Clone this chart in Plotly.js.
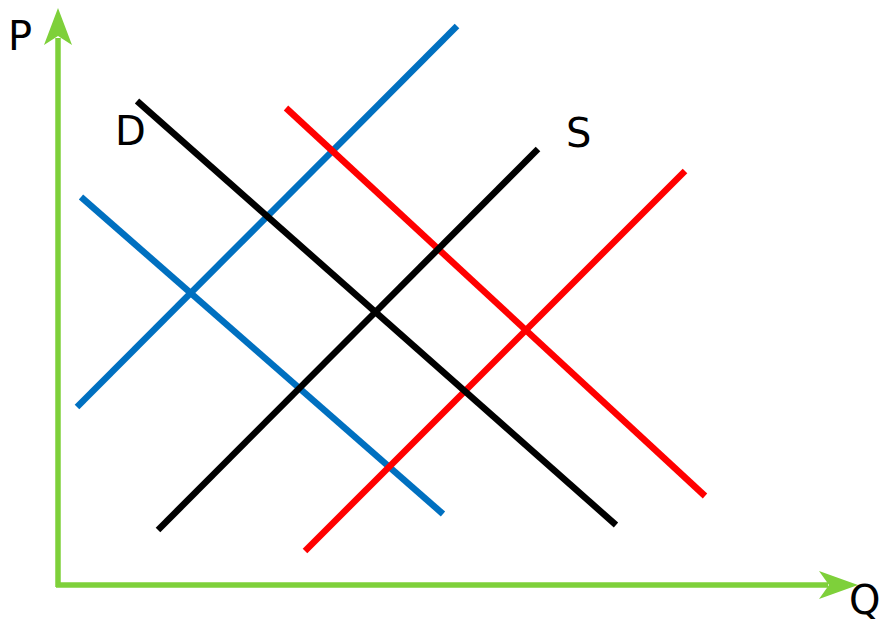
<!DOCTYPE html>
<html>
<head>
<meta charset="utf-8">
<script src="https://cdn.plot.ly/plotly-3.0.1.min.js"></script>
<style>html,body{margin:0;padding:0;background:#fff;}#chart{width:883px;height:629px;}</style>
</head>
<body>
<div id="chart"></div>
<script>
// Curve endpoints (pixel-like units)
const demandX = [137, 616];
const demandY = [101, 525];
const supplyX = [158, 538];
const supplyY = [530, 149];
const blueDemandX = [81, 443];
const blueDemandY = [197, 514];
const blueSupplyX = [77, 457];
const blueSupplyY = [407, 26];
const redDemandX = [286, 705];
const redDemandY = [108, 496];
const redSupplyX = [305, 685];
const redSupplyY = [551, 171];
// Axes
const axisOrigin = [58, 585];
const yAxisTop = 8;
const xAxisEnd = 858;
const labels = ["P", "Q", "D", "S"];
const labelX = [20, 864, 130, 578];
const labelY = [36, 600, 131, 133];

const BLACK = "#000000", BLUE = "#0070C0", RED = "#FF0000", GREEN = "#7ED03A";
const W = 6.5;
function ln(x, y, c) {
  return {x: x, y: y, type: "scatter", mode: "lines", line: {color: c, width: W}, hoverinfo: "skip", showlegend: false};
}
const traces = [
  ln(blueDemandX, blueDemandY, BLUE),
  ln(blueSupplyX, blueSupplyY, BLUE),
  ln(redDemandX, redDemandY, RED),
  ln(redSupplyX, redSupplyY, RED),
  ln(demandX, demandY, BLACK),
  ln(supplyX, supplyY, BLACK),
  ln([axisOrigin[0], axisOrigin[0]], [axisOrigin[1] + 2, yAxisTop + 30], GREEN),
  ln([axisOrigin[0] - 2, xAxisEnd - 30], [axisOrigin[1], axisOrigin[1]], GREEN)
];
traces[6].line.width = 5.5; traces[7].line.width = 5.5;

const ox = axisOrigin[0], oy = axisOrigin[1];
const shapes = [
  {type: "path", xref: "x", yref: "y", fillcolor: GREEN, line: {width: 0},
   path: `M ${ox} ${yAxisTop} L ${ox + 14} ${yAxisTop + 37} L ${ox} ${yAxisTop + 28} L ${ox - 14} ${yAxisTop + 37} Z`},
  {type: "path", xref: "x", yref: "y", fillcolor: GREEN, line: {width: 0},
   path: `M ${xAxisEnd} ${oy} L ${xAxisEnd - 39} ${oy - 14} L ${xAxisEnd - 29} ${oy} L ${xAxisEnd - 39} ${oy + 14} Z`}
];

const annotations = labels.map((t, i) => ({
  x: labelX[i], y: labelY[i], xref: "x", yref: "y", text: t, showarrow: false,
  font: {family: "DejaVu Sans", size: 40, color: "#000"}, xanchor: "center", yanchor: "middle"
}));

const layout = {
  width: 883, height: 629,
  margin: {l: 0, r: 0, t: 0, b: 0},
  paper_bgcolor: "#fff", plot_bgcolor: "#fff",
  xaxis: {range: [0, 883], visible: false, fixedrange: true},
  yaxis: {range: [629, 0], visible: false, fixedrange: true},
  shapes: shapes,
  annotations: annotations,
  showlegend: false
};
Plotly.newPlot("chart", traces, layout, {displayModeBar: false, staticPlot: true});
</script>
</body>
</html>
